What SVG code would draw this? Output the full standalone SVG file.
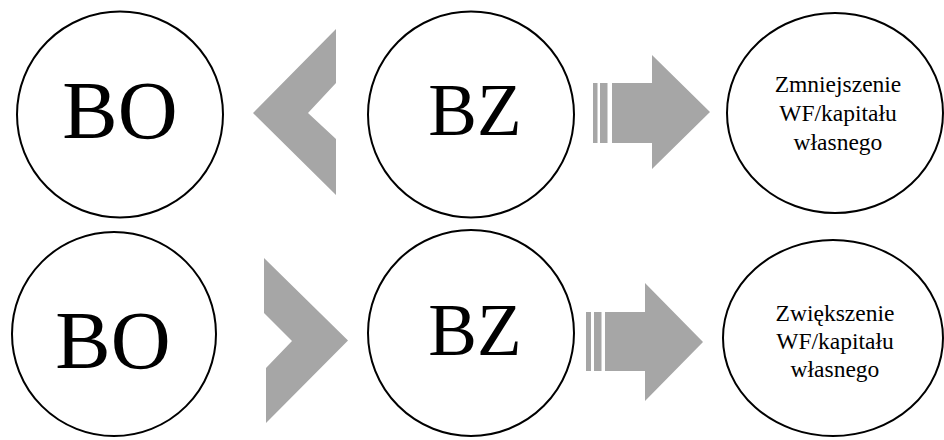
<svg xmlns="http://www.w3.org/2000/svg" width="944" height="440" viewBox="0 0 944 440">
  <style>
    .node { fill: #ffffff; stroke: #000000; stroke-width: 2; }
    .big { font-family: "Liberation Serif", "Times New Roman", serif; fill: #000000; text-anchor: middle; }
    .small { font-family: "Liberation Serif", "Times New Roman", serif; font-size: 23.5px; fill: #000000; text-anchor: middle; }
    .shape { fill: #a6a6a6; stroke: none; }
  </style>
  <rect width="944" height="440" fill="#ffffff"/>

  <!-- top row -->
  <g id="bo-top">
    <circle class="node" cx="120" cy="114.5" r="103"/>
    <text class="big" x="120" y="138" font-size="83">BO</text>
  </g>
  <g id="bz-top">
    <circle class="node" cx="471" cy="114.5" r="103"/>
    <text class="big" x="475" y="135" font-size="73">BZ</text>
  </g>
  <g id="result-top">
    <ellipse class="node" cx="835" cy="113" rx="108" ry="100"/>
    <text class="small" x="838" y="92">Zmniejszenie</text>
    <text class="small" x="838" y="121">WF/kapitału</text>
    <text class="small" x="838" y="150">własnego</text>
  </g>

  <!-- bottom row -->
  <g id="bo-bottom">
    <circle class="node" cx="114" cy="334" r="102"/>
    <text class="big" x="113" y="368" font-size="83">BO</text>
  </g>
  <g id="bz-bottom">
    <circle class="node" cx="471" cy="333" r="103"/>
    <text class="big" x="475" y="355" font-size="73">BZ</text>
  </g>
  <g id="result-bottom">
    <ellipse class="node" cx="833" cy="338" rx="110" ry="98"/>
    <text class="small" x="835" y="321">Zwiększenie</text>
    <text class="small" x="835" y="349">WF/kapitału</text>
    <text class="small" x="835" y="377">własnego</text>
  </g>

  <!-- connectors -->
  <g id="connectors">
    <polygon class="shape" points="253,113 336,29 336,83 308,113 336,139 336,195"/>
    <rect class="shape" x="593" y="83" width="4.5" height="60"/>
    <rect class="shape" x="600" y="83" width="7.5" height="60"/>
    <polygon class="shape" points="612,83 652,83 652,55 710,112 652,169 652,143 612,143"/>

    <polygon class="shape" points="264,258 348,340.5 266,423 266,368 292,341 264,313"/>
    <rect class="shape" x="586" y="312" width="5" height="59"/>
    <rect class="shape" x="594" y="312" width="7.5" height="59"/>
    <polygon class="shape" points="605,312 645,312 645,283 703,342 645,401 645,371 605,371"/>
  </g>
</svg>
